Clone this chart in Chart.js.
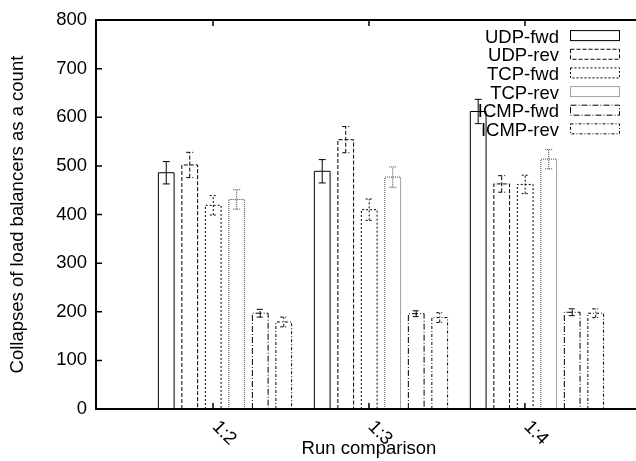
<!DOCTYPE html>
<html>
<head>
<meta charset="utf-8">
<script src="https://cdn.jsdelivr.net/npm/chart.js@4/dist/chart.umd.min.js"></script>
<style>
  html, body { margin: 0; padding: 0; background: #fff; overflow: hidden; }
  #wrap { width: 636px; height: 461px; }
</style>
</head>
<body>
<div id="wrap"><canvas id="c" width="636" height="461"></canvas></div>
<script>
// Run comparisons on the x axis
const categories = ['1:2', '1:3', '1:4'];
const seriesNames = ['UDP-fwd', 'UDP-rev', 'TCP-fwd', 'TCP-rev', 'ICMP-fwd', 'ICMP-rev'];

// Mean number of collapses per run comparison
const udpFwd  = [486, 489, 612];
const udpRev  = [502, 554, 463];
const tcpFwd  = [419, 410, 462];
const tcpRev  = [431, 477, 514];
const icmpFwd = [197, 196, 199];
const icmpRev = [179, 188, 197];

// Error bar half-widths (same units)
const udpFwdErr  = [23, 24, 25];
const udpRevErr  = [26, 27, 17];
const tcpFwdErr  = [20, 22, 19];
const tcpRevErr  = [20, 21, 20];
const icmpFwdErr = [8, 6, 7];
const icmpRevErr = [10, 10, 9];

const yTicks = [0, 100, 200, 300, 400, 500, 600, 700, 800];

const seriesValues = [udpFwd, udpRev, tcpFwd, tcpRev, icmpFwd, icmpRev];
const seriesErrors = [udpFwdErr, udpRevErr, tcpFwdErr, tcpRevErr, icmpFwdErr, icmpRevErr];

// Outline dash pattern for each series
const seriesDash = [[], [4, 2], [2, 2], [1, 1], [6, 2, 1, 2], [3, 2, 1, 2]];
const seriesStroke = ['#000', '#000', '#000', '#444', '#000', '#000'];

// Bars of a group sit slightly right of their tick label
const GROUP_SHIFT = 0.077;

const FONT = { family: "'Liberation Sans', Arial, Helvetica, sans-serif", size: 18.5 };
const fontCss = `${FONT.size}px ${FONT.family}`;

const datasets = seriesNames.map((name, s) => ({
  label: name,
  data: seriesValues[s].map((v, i) => ({ x: i + GROUP_SHIFT, y: v })),
  backgroundColor: 'rgba(0,0,0,0)',
  borderWidth: 0,
  categoryPercentage: 0.904,
  barPercentage: 0.67
}));

const gnuplotLook = {
  id: 'gnuplotLook',
  afterDatasetsDraw(chart) {
    const { ctx, chartArea: a, scales: { x, y } } = chart;
    ctx.save();

    // bar outlines and error bars
    chart.data.datasets.forEach((ds, s) => {
      const meta = chart.getDatasetMeta(s);
      ctx.strokeStyle = seriesStroke[s];
      ctx.lineWidth = 1;
      ctx.setLineDash(seriesDash[s]);
      meta.data.forEach((el, i) => {
        const l = el.x - el.width / 2, r = el.x + el.width / 2;
        ctx.beginPath();
        ctx.moveTo(l, el.base);
        ctx.lineTo(l, el.y);
        ctx.lineTo(r, el.y);
        ctx.lineTo(r, el.base);
        ctx.stroke();

        const v = seriesValues[s][i], e = seriesErrors[s][i];
        const yHi = y.getPixelForValue(v + e), yLo = y.getPixelForValue(v - e);
        ctx.beginPath();
        ctx.moveTo(el.x, yLo); ctx.lineTo(el.x, yHi);
        ctx.moveTo(el.x - 3.5, yHi); ctx.lineTo(el.x + 3.5, yHi);
        ctx.moveTo(el.x - 3.5, yLo); ctx.lineTo(el.x + 3.5, yLo);
        ctx.stroke();
      });
    });

    // frame
    ctx.setLineDash([]);
    ctx.strokeStyle = '#000';
    ctx.lineWidth = 2;
    ctx.beginPath();
    ctx.moveTo(a.right, a.top);
    ctx.lineTo(a.left, a.top);
    ctx.lineTo(a.left, a.bottom);
    ctx.lineTo(a.right, a.bottom);
    ctx.stroke();

    // inward tick marks
    ctx.lineWidth = 1.5;
    ctx.beginPath();
    yTicks.forEach(t => {
      const py = y.getPixelForValue(t);
      ctx.moveTo(a.left, py); ctx.lineTo(a.left + 6, py);
    });
    categories.forEach((c, i) => {
      const px = x.getPixelForValue(i);
      ctx.moveTo(px, a.bottom); ctx.lineTo(px, a.bottom - 6);
      ctx.moveTo(px, a.top); ctx.lineTo(px, a.top + 6);
    });
    ctx.stroke();

    // rotated category labels
    ctx.fillStyle = '#000';
    ctx.font = fontCss;
    categories.forEach((c, i) => {
      const px = x.getPixelForValue(i);
      ctx.save();
      ctx.translate(px + 2, a.bottom + 15);
      ctx.rotate(Math.PI / 4);
      ctx.textAlign = 'left';
      ctx.textBaseline = 'middle';
      ctx.fillText(c, 0, 0);
      ctx.restore();
    });

    // x axis title
    ctx.textAlign = 'center';
    ctx.textBaseline = 'alphabetic';
    ctx.fillText('Run comparison', x.getPixelForValue(1), a.bottom + 45);

    // key
    seriesNames.forEach((name, s) => {
      const base = a.top + 22.7 + s * 18.65;
      ctx.textAlign = 'right';
      ctx.fillStyle = '#000';
      ctx.fillText(name, 559, base);
      ctx.strokeStyle = seriesStroke[s];
      ctx.lineWidth = 1;
      ctx.setLineDash(seriesDash[s]);
      ctx.strokeRect(570.5, base - 12.2, 49, 10);
    });

    ctx.restore();
  }
};

new Chart(document.getElementById('c'), {
  type: 'bar',
  data: { datasets },
  options: {
    responsive: false,
    animation: false,
    devicePixelRatio: 1,
    layout: { padding: { top: 14, left: 0, right: 0, bottom: 0 } },
    plugins: { legend: { display: false }, tooltip: { enabled: false } },
    scales: {
      x: {
        type: 'linear',
        min: -0.75,
        max: 2.712,
        offset: false,
        grid: { display: false, drawTicks: false },
        border: { display: false },
        ticks: { display: false },
        afterBuildTicks: s => { s.ticks = categories.map((_, i) => ({ value: i })); },
        afterFit: s => { s.height = 52; }
      },
      y: {
        min: 0,
        max: 800,
        grid: { display: false, drawTicks: false },
        border: { display: false },
        afterBuildTicks: s => { s.ticks = yTicks.map(v => ({ value: v })); },
        ticks: { padding: 9, color: '#000', font: FONT },
        title: {
          display: true,
          text: 'Collapses of load balancers as a count',
          color: '#000',
          font: FONT,
          padding: { top: 7, bottom: 0 }
        },
        afterFit: s => { s.width = 96; }
      }
    }
  },
  plugins: [gnuplotLook]
});
</script>
</body>
</html>
